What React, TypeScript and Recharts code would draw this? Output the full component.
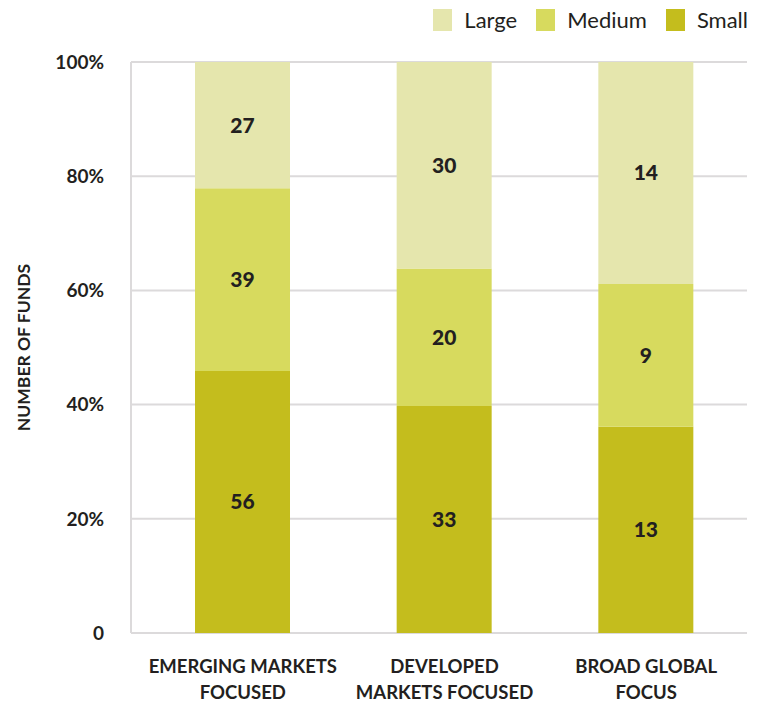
import React from "react";
import { BarChart, Bar, XAxis, YAxis, CartesianGrid, LabelList } from "recharts";

const categories = ["EMERGING MARKETS|FOCUSED", "DEVELOPED|MARKETS FOCUSED", "BROAD GLOBAL|FOCUS"];
const smallFunds = [56, 33, 13];
const mediumFunds = [39, 20, 9];
const largeFunds = [27, 30, 14];
const yTicks = [0, 0.2, 0.4, 0.6, 0.8, 1];

const COLORS = { large: "#e5e6ad", medium: "#d7da5e", small: "#c4bd1d" };
const FONT = "Lato, 'Open Sans', sans-serif";
const TEXT = "#231f20";
const GRID = "#dcdadb";

const data = categories.map((c, i) => ({
  name: c,
  small: smallFunds[i],
  medium: mediumFunds[i],
  large: largeFunds[i],
}));

const legendItems = [
  { label: "Large", color: COLORS.large },
  { label: "Medium", color: COLORS.medium },
  { label: "Small", color: COLORS.small },
];

const LegendBox = () => (
  <div
    style={{
      position: "absolute",
      top: 8,
      right: 12,
      display: "flex",
      justifyContent: "flex-end",
      fontFamily: FONT,
      fontSize: 22,
      color: TEXT,
      lineHeight: "24px",
    }}
  >
    {legendItems.map((it) => (
      <div key={it.label} style={{ display: "flex", alignItems: "center", marginLeft: 19 }}>
        <div style={{ width: 19, height: 22, background: it.color, marginRight: 12 }} />
        <span>{it.label}</span>
      </div>
    ))}
  </div>
);

const XTick = (props: any) => {
  const { x, y, payload } = props;
  const lines = String(payload.value).split("|");
  return (
    <g transform={`translate(${x},${y})`}>
      {lines.map((l, i) => (
        <text key={i} x={0} y={32 + i * 26} textAnchor="middle" fontFamily={FONT} fontWeight={700} fontSize={18.5} fill={TEXT}>
          {l}
        </text>
      ))}
    </g>
  );
};

const fmtY = (v: number) => (v === 0 ? "0" : `${Math.round(v * 100)}%`);
const labelStyle = { fontFamily: FONT, fontWeight: 900, fontSize: 21, fill: TEXT };

export default function App() {
  return (
    <div style={{ position: "absolute", left: 0, top: 0, width: 760, height: 703, background: "#fff" }}>
      <BarChart
        width={760}
        height={703}
        data={data}
        stackOffset="expand"
        margin={{ top: 62, right: 13, bottom: 0, left: 131 - 60 }}
      >
        <CartesianGrid yAxisId="left" vertical={false} stroke={GRID} strokeWidth={2} />
        <XAxis
          dataKey="name"
          height={70}
          axisLine={false}
          tickLine={false}
          tick={<XTick />}
          interval={0}
          padding={{ left: 11, right: 0 }}
        />
        <YAxis
          yAxisId="left"
          width={60}
          domain={[0, 1]}
          ticks={yTicks}
          tickFormatter={fmtY}
          axisLine={{ stroke: GRID, strokeWidth: 2 }}
          tickLine={false}
          tickMargin={21}
          tick={{ fontFamily: FONT, fontWeight: 700, fontSize: 19, fill: TEXT }}
          label={{
            value: "NUMBER OF FUNDS",
            angle: -90,
            position: "insideLeft",
            offset: 0,
            dx: -47,
            style: { fontFamily: FONT, fontWeight: 700, fontSize: 17.5, fill: TEXT, textAnchor: "middle" },
          }}
        />
        <YAxis
          yAxisId="right"
          orientation="right"
          width={0}
          domain={[0, 1]}
          ticks={yTicks}
          tick={false}
          tickLine={false}
          axisLine={{ stroke: GRID, strokeWidth: 2 }}
        />
        <Bar yAxisId="left" dataKey="small" stackId="a" fill={COLORS.small} barSize={95} isAnimationActive={false}>
          <LabelList dataKey="small" position="center" style={labelStyle} />
        </Bar>
        <Bar yAxisId="left" dataKey="medium" stackId="a" fill={COLORS.medium} barSize={95} isAnimationActive={false}>
          <LabelList dataKey="medium" position="center" style={labelStyle} />
        </Bar>
        <Bar yAxisId="left" dataKey="large" stackId="a" fill={COLORS.large} barSize={95} isAnimationActive={false}>
          <LabelList dataKey="large" position="center" style={labelStyle} />
        </Bar>
      </BarChart>
      <LegendBox />
    </div>
  );
}
